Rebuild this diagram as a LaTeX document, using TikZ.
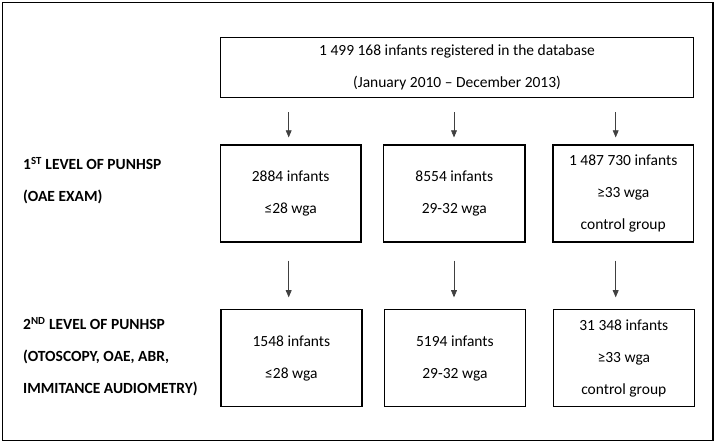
\documentclass[tikz,border=0pt]{standalone}
\usepackage{fontspec}
\setmainfont{Carlito}
\usetikzlibrary{shapes}
\usetikzlibrary{arrows}

\begin{document}
\begin{tikzpicture}[x=1pt,y=-1pt]
	\tikzstyle{every node}=[font=\fontsize{15.5}{32}\selectfont,inner sep=0pt]
	\tikzstyle{box}=[rectangle,draw,line width=1.2pt,align=center,minimum height=97pt]
	\tikzstyle{lvl}=[anchor=west,align=left,font=\fontsize{15.5}{32}\selectfont\bfseries]
	\tikzstyle{arr}=[-triangle 45,line width=0.6pt,draw=black!75]

	\useasboundingbox (0,0) rectangle (716,443);
	\draw[line width=1.4pt] (2.5,2.5) rectangle (713,440.5);

	\node[box,minimum width=473pt,minimum height=60.5pt](db) at (457,67.5)
		{1 499 168 infants registered in the database\\(January 2010 -- December 2013)};

	\node[box,minimum width=140.5pt](a1) at (290.7,193.5) {2884 infants\\≤28 wga};
	\node[box,minimum width=141.5pt](a2) at (454.3,193.5) {8554 infants\\29-32 wga};
	\node[box,minimum width=140.5pt](a3) at (623.2,193.5) {1 487 730 infants\\≥33 wga\\control group};

	\node[box,minimum width=141pt](b1) at (291.4,358.4) {1548 infants\\≤28 wga};
	\node[box,minimum width=141.5pt](b2) at (454.9,358.4) {5194 infants\\29-32 wga};
	\node[box,minimum width=141pt](b3) at (623.8,358.4) {31 348 infants\\≥33 wga\\control group};

	\node[lvl](l1) at (23,181) {1\textsuperscript{ST} LEVEL OF PUNHSP\\(OAE EXAM)};
	\node[lvl](l2) at (23,356.5) {2\textsuperscript{ND} LEVEL OF PUNHSP\\(OTOSCOPY, OAE, ABR,\\IMMITANCE AUDIOMETRY)};

	% arrow columns
	\coordinate (c1) at (288.7,0);
	\coordinate (c2) at (454,0);
	\coordinate (c3) at (615.7,0);

	\draw[arr,shorten <=14pt,shorten >=7pt] (db.south -| c1) -- (a1.north -| c1);
	\draw[arr,shorten <=14pt,shorten >=7pt] (db.south -| c2) -- (a2.north -| c2);
	\draw[arr,shorten <=14pt,shorten >=7pt] (db.south -| c3) -- (a3.north -| c3);

	\draw[arr,shorten <=18pt,shorten >=12pt] (a1.south -| c1) -- (b1.north -| c1);
	\draw[arr,shorten <=18pt,shorten >=12pt] (a2.south -| c2) -- (b2.north -| c2);
	\draw[arr,shorten <=18pt,shorten >=12pt] (a3.south -| c3) -- (b3.north -| c3);
\end{tikzpicture}
\end{document}
